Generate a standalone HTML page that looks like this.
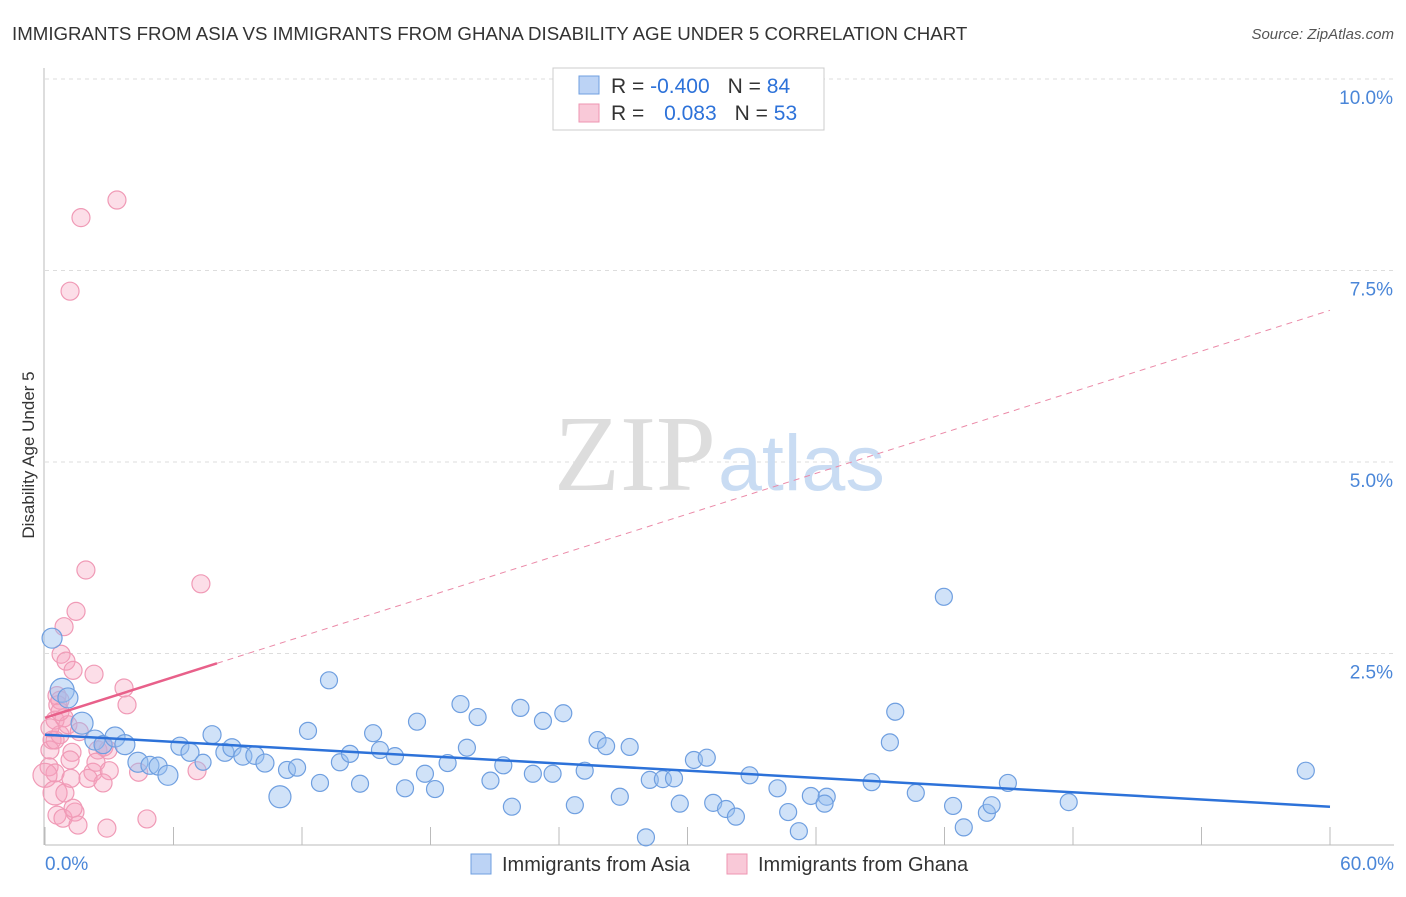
<!DOCTYPE html>
<html><head><meta charset="utf-8"><style>
body{margin:0;background:#fff;font-family:"Liberation Sans",sans-serif}
svg text{font-family:"Liberation Sans",sans-serif}
</style></head><body>
<svg id="chart" width="1406" height="892">
<text x="12" y="40" font-size="18.7" fill="#333">IMMIGRANTS FROM ASIA VS IMMIGRANTS FROM GHANA DISABILITY AGE UNDER 5 CORRELATION CHART</text>
<text x="1394" y="39" font-size="15" fill="#555" font-style="italic" text-anchor="end">Source: ZipAtlas.com</text>
<g id="grid"></g>
<text x="716" y="490" font-size="108" fill="#ddd" text-anchor="end" style="font-family:'Liberation Serif',serif">ZIP</text>
<text x="718" y="490" font-size="79" fill="#c9dcf3">atlas</text>
<text x="34" y="455" font-size="17" fill="#333" text-anchor="middle" transform="rotate(-90 34 455)">Disability Age Under 5</text>
<g id="pts"></g>
<g id="lines"></g>
<g>
<rect x="553" y="68" width="271" height="62" fill="#fff" stroke="#ccc"/>
<rect x="579" y="76" width="20" height="18" fill="#bcd3f5" stroke="#6f9fe0"/>
<rect x="579" y="104" width="20" height="18" fill="#f9c9d8" stroke="#ee95b2"/>
<text x="611" y="93" font-size="21" fill="#333">R = <tspan fill="#2d72d9">-0.400</tspan><tspan dx="18">N = </tspan><tspan fill="#2d72d9">84</tspan></text>
<text x="611" y="120" font-size="21" fill="#333">R = <tspan fill="#2d72d9" dx="14">0.083</tspan><tspan dx="18">N = </tspan><tspan fill="#2d72d9">53</tspan></text>
</g>
<g>
<rect x="471" y="854" width="20" height="20" fill="#bcd3f5" stroke="#6f9fe0"/>
<text x="502" y="871" font-size="20" fill="#333">Immigrants from Asia</text>
<rect x="727" y="854" width="20" height="20" fill="#f9c9d8" stroke="#ee95b2"/>
<text x="758" y="871" font-size="20" fill="#333">Immigrants from Ghana</text>
</g>
</svg>
<script>
const yTicks=[2.5,5,7.5,10];
const yTickLabels=["2.5%","5.0%","7.5%","10.0%"];
const xTicks=[0,6,12,18,24,30,36,42,48,54,60];
const xLabels=["0.0%","60.0%"];
const asiaX=[0.33,0.8,1.07,1.73,2.33,2.71,3.27,3.73,4.34,4.9,5.28,5.74,6.3,6.77,7.38,7.8,8.4,8.73,9.24,9.8,10.27,10.97,11.3,11.77,12.28,12.84,13.26,13.77,14.24,14.71,15.32,15.64,16.34,16.81,17.37,17.74,18.21,18.8,19.4,19.7,20.2,20.8,21.4,21.8,22.2,22.78,23.25,23.7,24.2,24.74,25.2,25.8,26.2,26.84,27.3,28.06,28.24,28.85,29.37,29.64,30.3,30.9,31.2,31.8,32.26,32.9,34.2,34.7,35.2,35.76,36.5,36.4,38.6,39.45,39.7,40.66,41.97,42.4,42.9,43.98,44.2,44.96,47.8,58.87];
const asiaY=[2.70,2.02,1.92,1.59,1.37,1.31,1.41,1.31,1.08,1.04,1.03,0.91,1.29,1.21,1.08,1.44,1.21,1.27,1.16,1.17,1.07,0.63,0.98,1.01,1.49,0.81,2.15,1.08,1.19,0.8,1.46,1.24,1.16,0.74,1.61,0.93,0.73,1.07,1.84,1.27,1.67,0.84,1.04,0.5,1.79,0.93,1.62,0.93,1.72,0.52,0.97,1.37,1.29,0.63,1.28,0.1,0.85,0.86,0.87,0.54,1.11,1.14,0.55,0.47,0.37,0.91,0.74,0.43,0.18,0.64,0.63,0.54,0.82,1.34,1.74,0.68,3.24,0.51,0.23,0.42,0.52,0.81,0.56,0.97];
const asiaR=[10,12,10,11,10,9,10,10,10,9,9,10,9,9,8,9,9,9,9,9,9,11];
const ghanaX=[1.68,3.36,1.17,1.91,7.28,1.45,0.89,0.75,0.98,1.31,2.29,3.69,0.56,0.6,3.83,0.47,0.89,0.33,0.7,1.07,1.6,0.23,1.26,2.47,2.75,2.94,0.19,0.47,0,1.17,2.24,2.38,3.0,4.37,7.1,0.47,0.93,1.21,2.01,2.71,0.56,0.84,1.4,1.54,1.31,2.89,4.76,0.7,0.7,0.23,0.47];
const ghanaY=[8.19,8.42,7.23,3.59,3.41,3.05,2.85,2.49,2.4,2.28,2.23,2.05,1.95,1.83,1.83,1.63,1.66,1.37,1.44,1.57,1.48,1.24,1.21,1.24,1.28,1.24,1.02,0.94,0.91,1.11,0.95,1.08,0.97,0.95,0.97,0.68,0.68,0.87,0.87,0.81,0.39,0.35,0.43,0.26,0.48,0.22,0.34,1.89,1.74,1.53,1.37];
const asiaTrend=[1.44,0.5];
const ghanaTrend=[1.66,6.98];
const ghanaSolidEnd=8.03;
const X=v=>45+v*(1285/60), Y=v=>845-v*76.6;
const NS="http://www.w3.org/2000/svg";
function mk(t,a,p){const e=document.createElementNS(NS,t);for(const k in a)e.setAttribute(k,a[k]);p.appendChild(e);return e;}
const gridG=document.getElementById('grid');
yTicks.forEach((t,i)=>{
 const l=mk('line',{x1:45,x2:1394,y1:Y(t),y2:Y(t),stroke:'#ddd','stroke-dasharray':'4,4'},gridG);
 
 
 const tx=mk('text',{x:1393,y:Y(t)+25,'font-size':19,fill:'#4a86d8','text-anchor':'end'},gridG);tx.textContent=yTickLabels[i];
 
 
});
const ax=mk('line',{x1:45,x2:1394,y1:845,y2:845,stroke:'#bbb'},gridG);


const ay=mk('line',{x1:44,x2:44,y1:68,y2:845,stroke:'#bbb'},gridG);


xTicks.forEach(t=>{const l=mk('line',{x1:X(t),x2:X(t),y1:827,y2:845,stroke:'#bbb'},gridG);
 
 });
[[0,'start',45],[60,'end',1394]].forEach((d,i)=>{const tx=mk('text',{x:d[2],y:870,'font-size':19,fill:'#4a86d8','text-anchor':d[1]},gridG);tx.textContent=xLabels[i];
 
 });
const ptsG=document.getElementById('pts');
ghanaX.forEach((x,i)=>{const r=(i==28||i==35)?12:9;const c=mk('circle',{cx:X(x),cy:Y(ghanaY[i]),r:r,fill:'rgba(245,160,190,0.35)',stroke:'#f09ab6','stroke-width':1.2},ptsG);
 
 });
asiaX.forEach((x,i)=>{const c=mk('circle',{cx:X(x),cy:Y(asiaY[i]),r:asiaR[i]||8.5,fill:'rgba(150,190,240,0.45)',stroke:'#6f9fe0','stroke-width':1.2},ptsG);
 
 });
const linesG=document.getElementById('lines');
const gy=x=>ghanaTrend[0]+(ghanaTrend[1]-ghanaTrend[0])*x/60;
const l1=mk('line',{x1:X(0),y1:Y(asiaTrend[0]),x2:X(60),y2:Y(asiaTrend[1]),stroke:'#2d72d9','stroke-width':2.5},linesG);


const l2=mk('line',{x1:X(0),y1:Y(gy(0)),x2:X(ghanaSolidEnd),y2:Y(gy(ghanaSolidEnd)),stroke:'#e8608a','stroke-width':2.5},linesG);


const l3=mk('line',{x1:X(ghanaSolidEnd),y1:Y(gy(ghanaSolidEnd)),x2:X(60),y2:Y(gy(60)),stroke:'#eb8aa8','stroke-width':1,'stroke-dasharray':'6,5'},linesG);


</script>
</body></html>
